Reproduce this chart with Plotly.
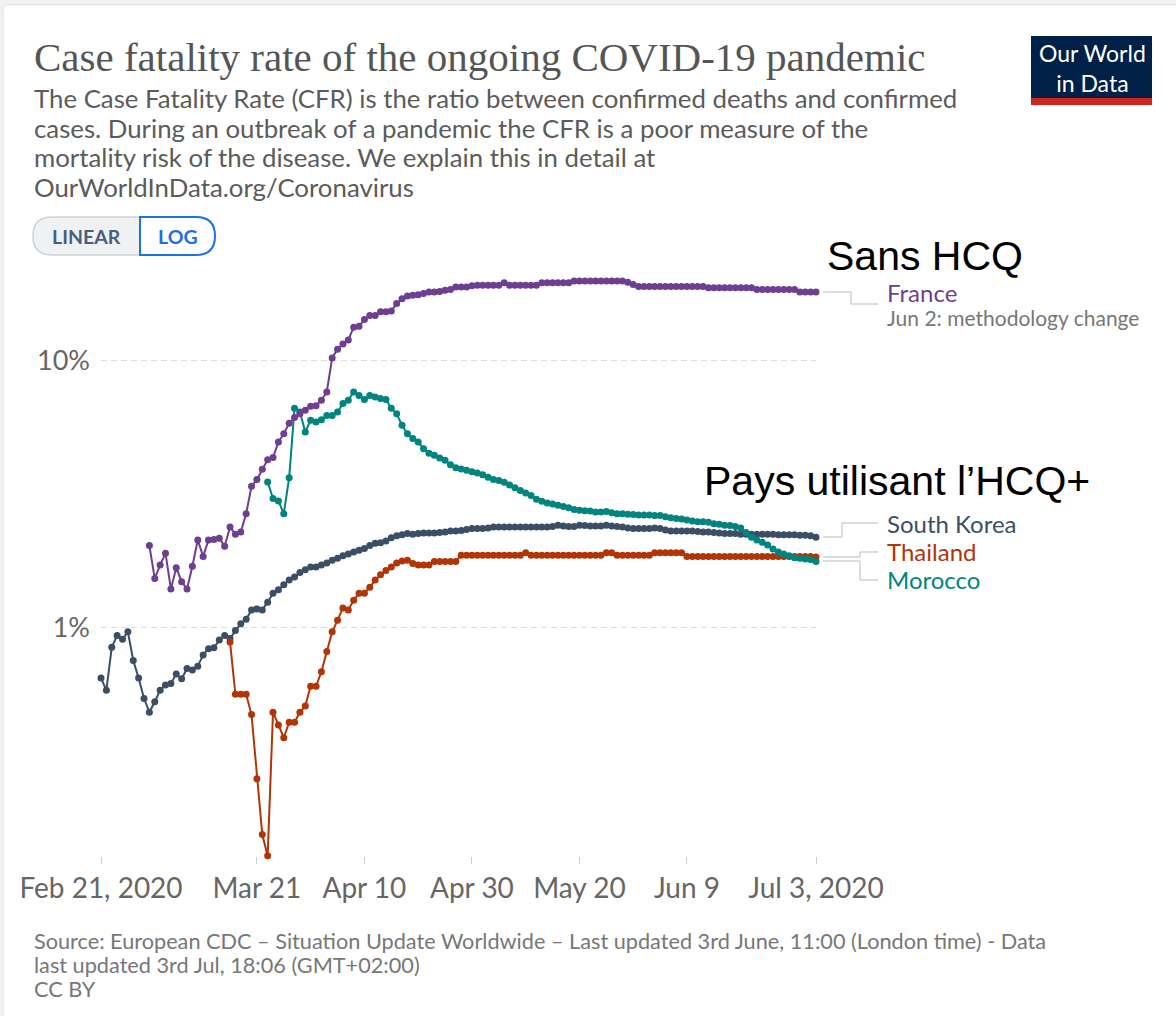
import plotly.graph_objects as go
import pandas as pd

# ---------------- data (CFR, %) ----------------
korea_start = "2020-02-21"
korea_cfr = [
    0.644, 0.58, 0.84, 0.93, 0.90, 0.96, 0.75, 0.644, 0.54, 0.48,
    0.525, 0.58, 0.607, 0.615, 0.667, 0.64, 0.70, 0.69, 0.714, 0.786,
    0.83, 0.837, 0.894, 0.93, 0.907, 0.97, 1.03, 1.07, 1.16, 1.17,
    1.16, 1.24, 1.34, 1.38, 1.44, 1.50, 1.54, 1.60, 1.64, 1.68,
    1.68, 1.71, 1.74, 1.78, 1.81, 1.85, 1.88, 1.91, 1.94, 1.97,
    2.02, 2.06, 2.07, 2.10, 2.16, 2.20, 2.22, 2.24, 2.23, 2.24,
    2.25, 2.25, 2.25, 2.26, 2.27, 2.29, 2.29, 2.30, 2.32, 2.34,
    2.34, 2.34, 2.35, 2.37, 2.37, 2.37, 2.37, 2.37, 2.37, 2.37,
    2.37, 2.37, 2.37, 2.37, 2.38, 2.41, 2.39, 2.38, 2.38, 2.41,
    2.40, 2.39, 2.39, 2.39, 2.41, 2.39, 2.38, 2.37, 2.35, 2.34,
    2.34, 2.34, 2.34, 2.35, 2.34, 2.31, 2.29, 2.29, 2.29, 2.29,
    2.29, 2.28, 2.27, 2.27, 2.26, 2.25, 2.24, 2.24, 2.24, 2.23,
    2.23, 2.23, 2.23, 2.23, 2.23, 2.23, 2.22, 2.22, 2.22, 2.22,
    2.21, 2.21, 2.20, 2.17,
]

thailand_start = "2020-03-16"
thailand_cfr = [
    0.88, 0.56, 0.56, 0.56, 0.47, 0.27,
    0.167, 0.139, 0.48, 0.43, 0.385, 0.44, 0.44, 0.48, 0.506, 0.60,
    0.60, 0.68, 0.81, 0.96, 1.06, 1.18, 1.16, 1.26, 1.34, 1.34,
    1.41, 1.50, 1.57, 1.63, 1.68, 1.74, 1.77, 1.78, 1.73, 1.71,
    1.71, 1.71, 1.76, 1.76, 1.76, 1.76, 1.76, 1.86, 1.86, 1.86,
    1.86, 1.86, 1.86, 1.86, 1.86, 1.86, 1.86, 1.86, 1.86, 1.90,
    1.86, 1.86, 1.86, 1.86, 1.86, 1.86, 1.86, 1.86, 1.86, 1.86,
    1.86, 1.86, 1.86, 1.86, 1.90, 1.90, 1.86, 1.86, 1.86, 1.86,
    1.86, 1.86, 1.86, 1.90, 1.90, 1.90, 1.90, 1.90, 1.90, 1.84,
    1.84, 1.84, 1.84, 1.84, 1.84, 1.84, 1.84, 1.84, 1.84, 1.84,
    1.84, 1.84, 1.84, 1.84, 1.84, 1.84, 1.84, 1.84, 1.84, 1.84,
    1.84, 1.84, 1.84, 1.83,
]

morocco_start = "2020-03-23"
morocco_cfr = [
    3.50, 3.03, 2.97, 2.66, 3.63, 6.6, 6.4, 5.38, 5.96,
    5.87, 5.98, 6.2, 6.2, 6.4, 6.88, 7.08, 7.6, 7.38, 7.13,
    7.38, 7.28, 7.18, 7.13, 6.6, 6.3, 5.7, 5.3, 5.09, 4.94,
    4.66, 4.48, 4.40, 4.30, 4.22, 4.06, 3.95, 3.91, 3.87, 3.82,
    3.78, 3.72, 3.64, 3.57, 3.54, 3.49, 3.41, 3.33, 3.25, 3.18,
    3.11, 3.01, 2.96, 2.92, 2.89, 2.86, 2.83, 2.80, 2.76, 2.74,
    2.73, 2.72, 2.70, 2.70, 2.71, 2.68, 2.66, 2.66, 2.65, 2.64,
    2.63, 2.63, 2.63, 2.62, 2.62, 2.59, 2.57, 2.55, 2.54, 2.52,
    2.50, 2.48, 2.48, 2.47, 2.44, 2.43, 2.41, 2.40, 2.38, 2.35,
    2.26, 2.17, 2.12, 2.08, 2.03, 1.96, 1.91, 1.88, 1.85, 1.82,
    1.81, 1.80, 1.79, 1.76,
]

france_start = "2020-03-01"
france_cfr = [
    2.02,
    1.52, 1.71, 1.89, 1.39, 1.67, 1.48, 1.39, 1.69, 2.12, 1.84,
    2.12, 2.13, 2.15, 2.01, 2.37, 2.23, 2.27, 2.66, 3.37, 3.57,
    3.9, 4.24, 4.32, 4.94, 5.3, 5.8, 6.1, 6.3, 6.5, 6.72,
    6.75, 7.08, 7.6, 10.2, 11.0, 11.5, 11.9, 13.3, 13.4, 14.2,
    14.7, 14.7, 15.2, 15.2, 15.3, 16.3, 17.0, 17.4, 17.5, 17.6,
    17.8, 18.0, 18.0, 18.1, 18.3, 18.4, 18.8, 18.8, 18.8, 19.0,
    19.1, 19.1, 19.1, 19.1, 19.1, 19.5, 19.1, 19.1, 19.1, 19.1,
    19.1, 19.1, 19.5, 19.5, 19.5, 19.5, 19.5, 19.5, 19.8, 19.8,
    19.8, 19.8, 19.8, 19.8, 19.8, 19.8, 19.8, 19.8, 19.6, 19.2,
    18.9, 18.9, 18.9, 18.9, 18.9, 18.9, 18.9, 18.9, 18.9, 18.9,
    18.9, 18.9, 18.9, 18.7, 18.7, 18.7, 18.7, 18.7, 18.7, 18.7,
    18.7, 18.7, 18.4, 18.4, 18.4, 18.4, 18.4, 18.4, 18.4, 18.4,
    18.0, 18.0, 18.0, 18.0,
]

x_tick_dates = ["2020-02-21", "2020-03-21", "2020-04-10", "2020-04-30",
                "2020-05-20", "2020-06-09", "2020-07-03"]
x_tick_labels = ["Feb 21, 2020", "Mar 21", "Apr 10", "Apr 30",
                 "May 20", "Jun 9", "Jul 3, 2020"]
y_tick_vals = [1, 10]
y_tick_labels = ["1%", "10%"]

series = [
    ("South Korea", korea_start, korea_cfr, "#3c4e66"),
    ("Thailand", thailand_start, thailand_cfr, "#b13507"),
    ("Morocco", morocco_start, morocco_cfr, "#00847e"),
    ("France", france_start, france_cfr, "#6d3e91"),
]

# ---------------- layout geometry ----------------
W, H = 1176, 1016
L, R, T, B = 101, 360, 281, 160
PW = W - L - R
PH = H - T - B


def px(x):
    return (x - L) / PW


def py(y):
    return (H - B - y) / PH


fig = go.Figure()
for name, start, vals, color in series:
    dates = pd.date_range(start, periods=len(vals), freq="D")
    fig.add_trace(go.Scatter(
        x=dates, y=vals, mode="lines+markers", name=name,
        line=dict(color=color, width=2),
        marker=dict(color=color, size=7),
        cliponaxis=False, showlegend=False,
    ))

shapes = []


def P(x, y):
    return f"{px(x):.5f},{py(y):.5f}"


def rect(x0, y0, x1, y1, **kw):
    shapes.append(dict(type="rect", xref="paper", yref="paper",
                       x0=px(x0), x1=px(x1), y0=py(y0), y1=py(y1), **kw))


def rounded(x0, y0, x1, y1, rl, rr, **kw):
    # rl: radius of the left corners, rr: radius of the right corners
    path = (f"M{P(x0 + rl, y0)} L{P(x1 - rr, y0)} Q{P(x1, y0)} {P(x1, y0 + rr)} "
            f"L{P(x1, y1 - rr)} Q{P(x1, y1)} {P(x1 - rr, y1)} "
            f"L{P(x0 + rl, y1)} Q{P(x0, y1)} {P(x0, y1 - rl)} "
            f"L{P(x0, y0 + rl)} Q{P(x0, y0)} {P(x0 + rl, y0)} Z")
    shapes.append(dict(type="path", xref="paper", yref="paper", path=path, **kw))


def polyline(pts, color="#bbbbbb", width=1):
    path = "M" + " L".join(P(x, y) for x, y in pts)
    shapes.append(dict(type="path", xref="paper", yref="paper", path=path,
                       line=dict(color=color, width=width)))


# card background
rect(-10, -10, W + 10, H + 10, fillcolor="#f2f2f2", line_width=0, layer="below")
rounded(3, 5, W + 20, H + 20, 4, 4, fillcolor="#ffffff",
        line=dict(color="#e3e3e3", width=1), layer="below")

# logo
rect(1031, 36, 1152, 98, fillcolor="#002147", line_width=0)
rect(1031, 98, 1152, 105, fillcolor="#ce261e", line_width=0)

# LINEAR / LOG toggle
rounded(33, 217, 215, 255, 19, 19, fillcolor="#f0f1f3",
        line=dict(color="#cdd2d9", width=1.5))
rounded(140, 217, 215, 255, 0, 19, fillcolor="#ffffff",
        line=dict(color="#1a73e8", width=2))

# label connectors
polyline([(823, 292), (851, 292), (851, 304), (878, 304)])
polyline([(823, 537), (842, 537), (842, 523), (878, 523)])
polyline([(823, 557), (860, 557), (860, 552), (878, 552)])
polyline([(823, 561), (860, 561), (860, 580), (878, 580)])

annotations = []


def ann(text, x, y, size, color, family="Lato, sans-serif", xanchor="left",
        yanchor="middle"):
    annotations.append(dict(text=text, x=px(x), y=py(y), xref="paper",
                            yref="paper", xanchor=xanchor, yanchor=yanchor,
                            showarrow=False,
                            font=dict(size=size, color=color, family=family)))


ann("Case fatality rate of the ongoing COVID-19 pandemic", 32, 57, 41,
    "#555555", family="Liberation Serif, serif")
sub = ["The Case Fatality Rate (CFR) is the ratio between confirmed deaths and confirmed",
       "cases. During an outbreak of a pandemic the CFR is a poor measure of the",
       "mortality risk of the disease. We explain this in detail at",
       "OurWorldInData.org/Coronavirus"]
for i, line in enumerate(sub):
    ann(line, 32, 98 + i * 29.7, 25.8, "#5b5b5b")

ann("Our World<br>in Data", 1092, 67.5, 23, "#ffffff", xanchor="center")

ann("<b>LINEAR</b>", 86.5, 236.5, 19.5, "#4b5e7f", xanchor="center")
ann("<b>LOG</b>", 177.5, 236.5, 19.5, "#1d6fdc", xanchor="center")

ann("Sans HCQ", 825, 256, 41, "#000000", family="Liberation Sans, Arial, sans-serif")
ann("Pays utilisant l\u2019HCQ+", 702, 481, 41, "#000000",
    family="Liberation Sans, Arial, sans-serif")

ann("France", 885, 293, 24, "#6d3e91")
ann("Jun 2: methodology change", 885, 317, 21, "#777777")
ann("South Korea", 885, 523, 24, "#3c4e66")
ann("Thailand", 885, 551, 24, "#b13507")
ann("Morocco", 885, 579, 24, "#00847e")

foot = ["Source: European CDC \u2013 Situation Update Worldwide \u2013 Last updated 3rd June, 11:00 (London time) - Data",
        "last updated 3rd Jul, 18:06 (GMT+02:00)",
        "CC BY"]
for i, line in enumerate(foot):
    ann(line, 32, 941 + i * 24, 21.7, "#777777")

fig.update_layout(
    width=W, height=H,
    margin=dict(l=L, r=R, t=T, b=B, pad=0),
    paper_bgcolor="#ffffff",
    plot_bgcolor="rgba(0,0,0,0)",
    shapes=shapes,
    annotations=annotations,
    xaxis=dict(
        type="date", range=["2020-02-21", "2020-07-03"],
        tickvals=x_tick_dates, ticktext=x_tick_labels,
        ticks="outside", ticklen=7, tickcolor="#cccccc", tickwidth=1,
        showgrid=False, showline=False, zeroline=False,
        tickfont=dict(family="Lato, sans-serif", size=28, color="#666666"),
    ),
    yaxis=dict(
        type="log", range=[-0.8577, 1.2968],
        tickvals=y_tick_vals, ticktext=y_tick_labels,
        ticks="", showline=False, zeroline=False,
        showgrid=True, gridcolor="#dddddd", gridwidth=1, griddash="6px,4px",
        ticklabelstandoff=10,
        tickfont=dict(family="Lato, sans-serif", size=27, color="#666666"),
    ),
)

fig.write_html("out.html")
